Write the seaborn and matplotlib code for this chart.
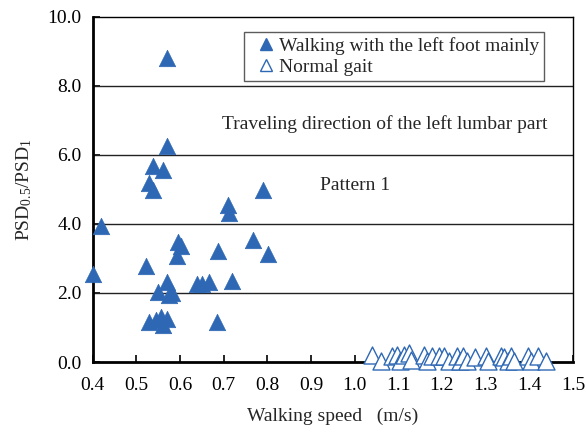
import matplotlib
matplotlib.use("Agg")
import matplotlib.pyplot as plt
import seaborn as sns
import pandas as pd
from matplotlib.lines import Line2D

# Data: walking with the left foot mainly (filled triangles)
left_speed = [0.571, 0.539, 0.560, 0.530, 0.537, 0.571, 0.791, 0.710, 0.713, 0.420,
              0.596, 0.602, 0.593, 0.766, 0.687, 0.801, 0.523, 0.401, 0.569, 0.718,
              0.639, 0.651, 0.666, 0.550, 0.575, 0.582, 0.530, 0.545, 0.556, 0.560,
              0.571, 0.685]
left_ratio = [8.82, 5.67, 5.57, 5.18, 4.99, 6.27, 4.99, 4.55, 4.31, 3.93,
              3.49, 3.37, 3.08, 3.54, 3.22, 3.13, 2.79, 2.55, 2.33, 2.36,
              2.26, 2.26, 2.33, 2.04, 1.94, 2.01, 1.17, 1.22, 1.31, 1.07,
              1.24, 1.17]

# Data: normal gait (open triangles)
normal_speed = [1.039, 1.061, 1.086, 1.098, 1.105, 1.113, 1.124, 1.128, 1.158, 1.166,
                1.177, 1.193, 1.204, 1.215, 1.234, 1.242, 1.249, 1.257, 1.276, 1.302,
                1.306, 1.336, 1.343, 1.352, 1.359, 1.366, 1.397, 1.405, 1.420, 1.439]
normal_ratio = [0.20, 0.03, 0.18, 0.20, 0.04, 0.19, 0.25, 0.05, 0.19, 0.04,
                0.18, 0.17, 0.17, 0.03, 0.18, 0.04, 0.18, 0.04, 0.15, 0.16,
                0.03, 0.17, 0.15, 0.04, 0.17, 0.04, 0.16, 0.03, 0.16, 0.03]

x_ticks = [0.4, 0.5, 0.6, 0.7, 0.8, 0.9, 1.0, 1.1, 1.2, 1.3, 1.4, 1.5]
y_ticks = [0.0, 2.0, 4.0, 6.0, 8.0, 10.0]

label_left = "Walking with the left foot mainly"
label_normal = "Normal gait"
annot_direction = "Traveling direction of the left lumbar part"
annot_pattern = "Pattern 1"

sns.set_style("white")
plt.rcParams["font.family"] = ["Liberation Serif", "DejaVu Serif"]
plt.rcParams["mathtext.fontset"] = "custom"
plt.rcParams["mathtext.rm"] = "Liberation Serif"
plt.rcParams["mathtext.it"] = "Liberation Serif:italic"

blue = "#2E68B5"
FS = 14

fig = plt.figure(figsize=(5.87, 4.32), dpi=100)
ax = fig.add_axes([0.158, 0.162, 0.818, 0.799])

df_left = pd.DataFrame({"speed": left_speed, "ratio": left_ratio})
df_norm = pd.DataFrame({"speed": normal_speed, "ratio": normal_ratio})

for yv in [2.0, 4.0, 6.0, 8.0]:
    ax.axhline(yv, color="#222222", lw=1.0, zorder=1)

sns.scatterplot(data=df_norm, x="speed", y="ratio", marker="^", s=150,
                facecolor="white", edgecolor=blue, linewidth=1.0, ax=ax,
                zorder=3, clip_on=False)
sns.scatterplot(data=df_left, x="speed", y="ratio", marker="^", s=140,
                color=blue, edgecolor=blue, linewidth=0.5, ax=ax,
                zorder=4, clip_on=False)

ax.set_xlim(0.4, 1.5)
ax.set_ylim(0.0, 10.0)
ax.set_xticks(x_ticks)
ax.set_xticklabels([f"{v:.1f}" for v in x_ticks])
ax.set_yticks(y_ticks)
ax.set_yticklabels([f"{v:.1f}" for v in y_ticks])
ax.tick_params(axis="both", direction="in", length=5, width=1.2, labelsize=FS,
               colors="black", pad=8)
ax.tick_params(axis="x", pad=11)
ax.tick_params(right=False, top=False, left=True, bottom=True)

for side in ["left", "bottom"]:
    ax.spines[side].set_color("black")
    ax.spines[side].set_linewidth(2.0)
for side in ["top", "right"]:
    ax.spines[side].set_color("black")
    ax.spines[side].set_linewidth(1.0)

ax.set_xlabel("Walking speed   (m/s)", fontsize=FS, labelpad=10)
ax.set_ylabel(r"PSD$_{0.5}$/PSD$_{1}$", fontsize=FS, labelpad=10)

ax.text(1.07, 6.88, annot_direction, fontsize=FS, ha="center", va="center")
ax.text(1.0, 5.1, annot_pattern, fontsize=FS, ha="center", va="center")

handles = [
    Line2D([], [], marker="^", linestyle="none", markersize=8,
           markerfacecolor=blue, markeredgecolor=blue),
    Line2D([], [], marker="^", linestyle="none", markersize=8,
           markerfacecolor="white", markeredgecolor=blue),
]
leg = ax.legend(handles, [label_left, label_normal], loc="upper right",
                bbox_to_anchor=(0.94, 0.955), fontsize=FS, frameon=True,
                fancybox=False, edgecolor="#333333", handlelength=1.75,
                handletextpad=-0.2, borderpad=0.25, labelspacing=0.15,
                borderaxespad=0)
leg.get_frame().set_linewidth(1.0)

fig.savefig("out.png", dpi=100)
